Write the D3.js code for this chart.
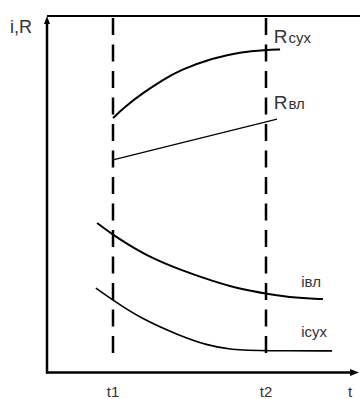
<!DOCTYPE html>
<html>
<head>
<meta charset="utf-8">
<script src="https://cdn.jsdelivr.net/npm/d3@7"></script>
<style>
    html, body { margin: 0; padding: 0; background: #fff; }
    svg { display: block; }
    text { font-family: "Liberation Sans", Arial, sans-serif; fill: #333; }
</style>
</head>
<body>
<svg id="chart"></svg>
<script>
// Time marks and curve values (arbitrary units)
const timeMarks = [
    { label: 't1', t: 20 },
    { label: 't2', t: 70 }
];
const rDry = [[20, 71.4], [23.3, 74.2], [30, 78.6], [36.3, 82.1], [41.9, 84.9], [52.7, 88.2], [61.5, 89.9], [70, 90.5], [74.6, 90.6]];
const rWet = [[20, 59.7], [73.6, 71.1]];
const iWet = [[14.8, 42.0], [20, 38.7], [24.6, 36.2], [32.1, 32.4], [41.9, 28.9], [52.7, 25.7], [61.5, 23.5], [70, 22.2], [80.1, 21.0], [88.6, 20.7]];
const iDry = [[14.4, 23.8], [20, 20.4], [28.8, 15.4], [41.9, 10.4], [50.7, 7.8], [58.2, 6.5], [70, 6.2], [91.6, 6.2]];

const curves = [
    { name: 'Rсух', pts: rDry, width: 2, label: [72.5, 92.3], big: 'R', small: 'сух' },
    { name: 'Rвл', pts: rWet, width: 1.2, label: [72.5, 74], big: 'R', small: 'вл' },
    { name: 'iвл', pts: iWet, width: 2, label: [81.5, 24], big: '', small: 'iвл' },
    { name: 'iсух', pts: iDry, width: 1.6, label: [81.5, 10], big: '', small: 'iсух' }
];

const W = 360, H = 399;
const svg = d3.select('#chart').attr('width', W).attr('height', H);

// Scales: t1 -> 113px, t2 -> 266px
const x = d3.scaleLinear().domain([0, 100]).range([51.8, 357.8]);
const y = d3.scaleLinear().domain([0, 100]).range([373, 16]);

const axisX0 = 47, axisY0 = 372.5, topY = 16;

// Top frame line
svg.append('line')
    .attr('x1', axisX0).attr('x2', W)
    .attr('y1', topY).attr('y2', topY)
    .attr('stroke', '#000').attr('stroke-width', 2);

// Dashed time marks
svg.append('g').selectAll('line')
    .data(timeMarks)
    .enter().append('line')
    .attr('x1', d => x(d.t)).attr('x2', d => x(d.t))
    .attr('y1', topY + 2).attr('y2', axisY0 - 10)
    .attr('stroke', '#000')
    .attr('stroke-width', 2.5)
    .attr('stroke-dasharray', '17,9.5');

// Axes
svg.append('line')
    .attr('x1', axisX0).attr('x2', axisX0)
    .attr('y1', axisY0 + 1).attr('y2', topY + 5)
    .attr('stroke', '#000').attr('stroke-width', 2.5);
svg.append('line')
    .attr('x1', axisX0 - 1).attr('x2', 352)
    .attr('y1', axisY0).attr('y2', axisY0)
    .attr('stroke', '#000').attr('stroke-width', 2.5);

// Arrow heads
svg.append('path')
    .attr('d', `M${axisX0},${topY} L${axisX0 - 3},${topY + 8} L${axisX0 + 3},${topY + 8} Z`)
    .attr('fill', '#000');
svg.append('path')
    .attr('d', `M359,${axisY0} L350,${axisY0 - 3.5} L350,${axisY0 + 3.5} Z`)
    .attr('fill', '#000');

// Curves
const line = d3.line()
    .x(d => x(d[0]))
    .y(d => y(d[1]))
    .curve(d3.curveBasis);

svg.append('g').selectAll('path')
    .data(curves)
    .enter().append('path')
    .attr('d', d => line(d.pts))
    .attr('fill', 'none')
    .attr('stroke', '#000')
    .attr('stroke-width', d => d.width);

// Curve labels
const lbl = svg.append('g').selectAll('text')
    .data(curves)
    .enter().append('text')
    .attr('x', d => x(d.label[0]))
    .attr('y', d => y(d.label[1]));
lbl.append('tspan')
    .style('font-size', '19px')
    .text(d => d.big);
lbl.append('tspan')
    .style('font-size', '15px')
    .attr('dx', d => d.big ? 1 : 0)
    .text(d => d.small);

// Axis labels
svg.append('text')
    .attr('x', 10).attr('y', 33)
    .style('font-size', '18px')
    .text('i,R');

svg.append('g').selectAll('text')
    .data(timeMarks.concat([{ label: 't', t: 97.5 }]))
    .enter().append('text')
    .attr('x', d => x(d.t))
    .attr('y', 397)
    .attr('text-anchor', 'middle')
    .style('font-size', '15px')
    .text(d => d.label);
</script>
</body>
</html>
